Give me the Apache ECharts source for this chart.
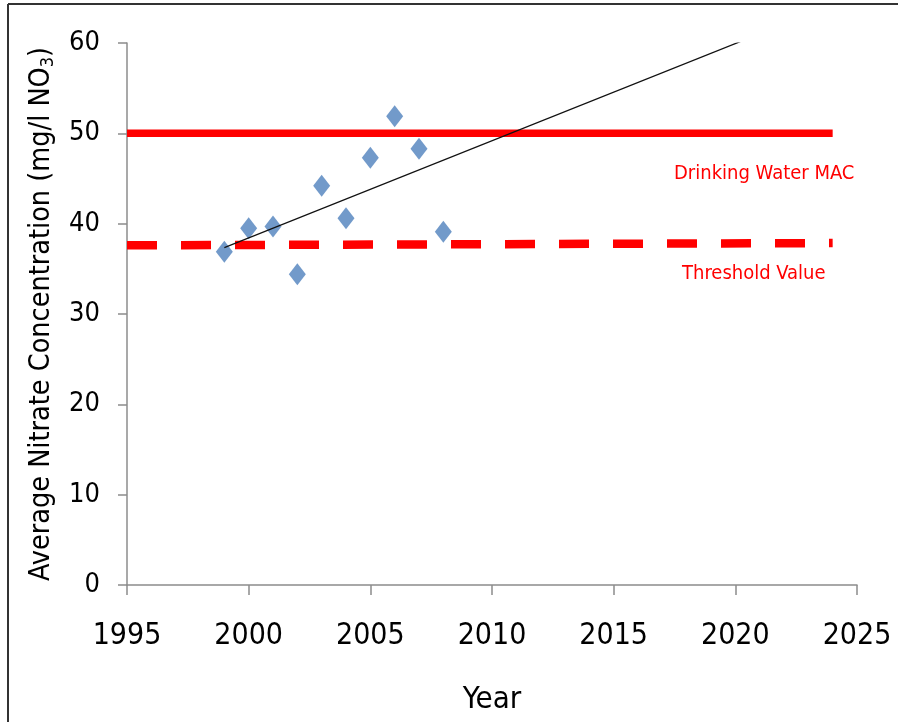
<!DOCTYPE html>
<html>
<head>
<meta charset="utf-8">
<script src="https://cdn.jsdelivr.net/npm/echarts@6/dist/echarts.min.js"></script>
<style>
  html, body {margin: 0; padding: 0; background: #fff;}
  #main {width: 898px; height: 722px;}
</style>
</head>
<body>
<div id="main"></div>
<script>
// measured nitrate averages, one per year
const years = [1999, 2000, 2001, 2002, 2003, 2004, 2005, 2006, 2007, 2008];
const nitrate = [36.9, 39.5, 39.7, 34.4, 44.2, 40.6, 47.3, 51.9, 48.3, 39.1];

// reference levels
const macYears = [1995, 2024];
const macValues = [50, 50];
const thresholdYears = [1995, 2024];
const thresholdValues = [37.6, 37.85];

// trendline runs from first sample to the forecast end
const trendYears = [1999, 2020.2];

const xTicks = [1995, 2000, 2005, 2010, 2015, 2020, 2025];
const yTicks = [0, 10, 20, 30, 40, 50, 60];

const FONT = "'Liberation Sans Narrow', 'DejaVu Sans Condensed', sans-serif";

function linearFit(xs, ys) {
  const n = xs.length;
  const mx = xs.reduce((a, b) => a + b, 0) / n;
  const my = ys.reduce((a, b) => a + b, 0) / n;
  let sxy = 0, sxx = 0;
  for (let i = 0; i < n; i++) {
    sxy += (xs[i] - mx) * (ys[i] - my);
    sxx += (xs[i] - mx) * (xs[i] - mx);
  }
  const slope = sxy / sxx;
  return x => my + slope * (x - mx);
}

const fit = linearFit(years, nitrate);
const zip = (xs, ys) => xs.map((x, i) => [x, ys[i]]);

const chart = echarts.init(document.getElementById('main'));
const option = {
  animation: false,
  backgroundColor: '#fff',
  grid: {left: 127, right: 41, top: 43, bottom: 137, outerBoundsMode: 'none'},
  xAxis: {
    type: 'value',
    min: xTicks[0],
    max: xTicks[xTicks.length - 1],
    interval: 5,
    name: 'Year',
    nameLocation: 'middle',
    nameGap: 99,
    nameTextStyle: {color: '#000', fontSize: 31, fontFamily: FONT},
    axisLine: {show: true, lineStyle: {color: '#8c8c8c', width: 1.5}},
    axisTick: {show: true, length: 10, lineStyle: {color: '#8c8c8c', width: 1.5}},
    axisLabel: {color: '#000', fontSize: 30, fontFamily: FONT, margin: 36, formatter: v => String(v)},
    splitLine: {show: false}
  },
  yAxis: {
    type: 'value',
    min: yTicks[0],
    max: yTicks[yTicks.length - 1],
    interval: 10,
    name: 'Average Nitrate Concentration (mg/l NO{sub|3})',
    nameLocation: 'middle',
    nameRotate: 90,
    nameGap: 70,
    nameTextStyle: {
      color: '#000', fontSize: 28.5, fontFamily: FONT,
      rich: {sub: {fontSize: 18, fontFamily: FONT, color: '#000', verticalAlign: 'bottom', padding: [12, 0, 0, 0]}}
    },
    axisLine: {show: true, lineStyle: {color: '#8c8c8c', width: 1.5}},
    axisTick: {show: true, length: 9, lineStyle: {color: '#8c8c8c', width: 1.5}},
    axisLabel: {color: '#000', fontSize: 27, fontFamily: FONT, margin: 27},
    splitLine: {show: false}
  },
  graphic: [
    {
      type: 'line', silent: true,
      shape: {x1: 8, y1: 4, x2: 898, y2: 4},
      style: {stroke: '#333', lineWidth: 2}
    },
    {
      type: 'line', silent: true,
      shape: {x1: 8, y1: 4, x2: 8, y2: 722},
      style: {stroke: '#333', lineWidth: 2}
    },
    {
      type: 'text', x: 674, y: 174,
      style: {text: 'Drinking Water MAC', fill: '#ff0000', font: '20px ' + FONT, verticalAlign: 'middle'}
    },
    {
      type: 'text', x: 682, y: 274,
      style: {text: 'Threshold Value', fill: '#ff0000', font: '20px ' + FONT, verticalAlign: 'middle'}
    }
  ],
  series: [
    {
      name: 'MAC',
      type: 'line',
      data: zip(macYears, macValues),
      symbol: 'none',
      lineStyle: {color: '#ff0000', width: 7.5, cap: 'butt'},
      z: 2
    },
    {
      name: 'Threshold',
      type: 'line',
      data: zip(thresholdYears, thresholdValues),
      symbol: 'none',
      lineStyle: {color: '#ff0000', width: 8.5, type: [30, 24], cap: 'butt'},
      z: 2
    },
    {
      name: 'Trend',
      type: 'line',
      data: trendYears.map(x => [x, fit(x)]),
      symbol: 'none',
      clip: true,
      lineStyle: {color: '#111', width: 1.2},
      z: 4
    },
    {
      name: 'Nitrate',
      type: 'scatter',
      data: zip(years, nitrate),
      symbol: 'diamond',
      symbolSize: [17, 22],
      itemStyle: {color: '#4f81bd'},
      z: 3
    }
  ]
};
chart.setOption(option);
</script>
</body>
</html>
